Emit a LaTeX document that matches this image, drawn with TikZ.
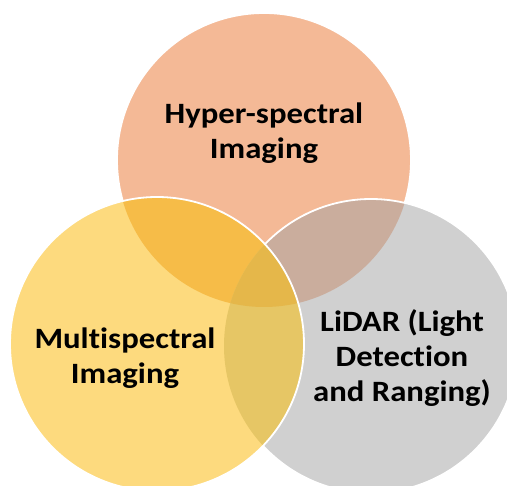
\documentclass[tikz,border=0pt]{standalone}
\usepackage{fontspec}
\setmainfont{Carlito}[FakeStretch=1.11,Ligatures=NoCommon]
\definecolor{hypercol}{HTML}{F4B996}
\definecolor{multicol}{HTML}{FDDA7E}
\definecolor{lidarcol}{HTML}{D0D0D0}
\definecolor{hmcol}{HTML}{F6BC48}
\definecolor{hlcol}{HTML}{CAAD9D}
\definecolor{mlcol}{HTML}{E6C665}
\definecolor{allcol}{HTML}{E5B74A}
\begin{document}
\begin{tikzpicture}[x=1pt,y=-1pt]
    \tikzstyle{every node}=[font=\bfseries\fontsize{29.5}{35}\selectfont,align=center,text=black,inner sep=0pt]
    \tikzstyle{ring}=[draw=white,line width=1.8pt]

    \edef\rad{147pt}
    \useasboundingbox (0,0) rectangle (507,486);

    %% Centres of the three circles
    \coordinate (hyper) at (264,160);
    \coordinate (lidar) at (371,346);
    \coordinate (multi) at (157,344);

    %% Hyper-spectral circle, then LiDAR circle over it
    \fill [hypercol,ring] (hyper) circle (\rad);
    \fill [lidarcol] (lidar) circle (\rad);
    \begin{scope}
        \clip (lidar) circle (\rad);
        \fill [hlcol] (hyper) circle (\rad);
    \end{scope}
    \draw [ring] (lidar) circle (\rad);

    %% Multispectral circle on top
    \fill [multicol] (multi) circle (\rad);
    \begin{scope}
        \clip (multi) circle (\rad);
        \fill [hmcol] (hyper) circle (\rad);
        \fill [mlcol] (lidar) circle (\rad);
        \clip (lidar) circle (\rad);
        \fill [allcol] (hyper) circle (\rad);
    \end{scope}
    \draw [ring] (multi) circle (\rad);

    %% Labels
    \node (hyperlabel) at (264,133) {Hyper-spectral\\Imaging};
    \node (multilabel) at (125,358) {Multispectral\\Imaging};
    \node (lidarlabel) at (402,358) {LiDAR (Light\\Detection\\and Ranging)};

\end{tikzpicture}
\end{document}
